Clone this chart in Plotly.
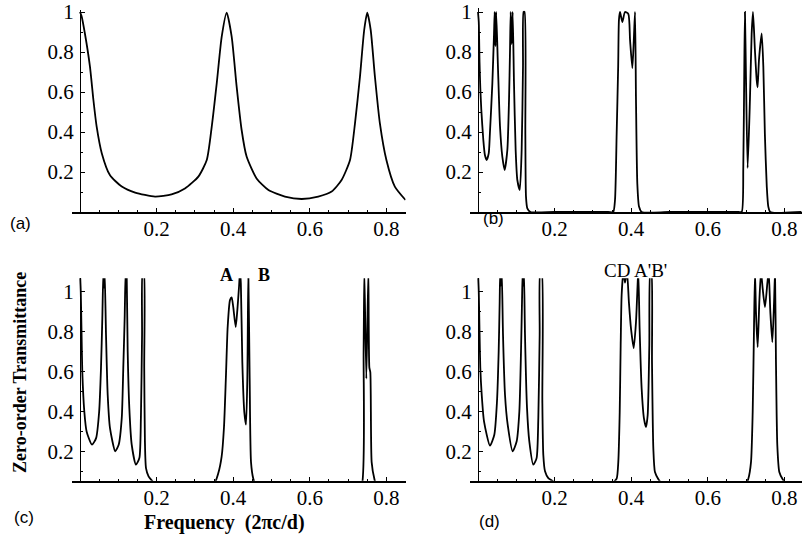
import plotly.graph_objects as go

W, H = 803, 537

# ---------------- data ----------------
freq_a = [0.0, 0.004, 0.013, 0.026, 0.035, 0.0435, 0.057, 0.078, 0.109, 0.144, 0.196, 0.239, 0.274,
          0.309, 0.331, 0.344, 0.357, 0.37, 0.383, 0.396, 0.409, 0.422, 0.435, 0.461, 0.492, 0.535,
          0.579, 0.622, 0.657, 0.683, 0.705, 0.718, 0.731, 0.742, 0.75, 0.759, 0.770, 0.783, 0.80,
          0.822, 0.85]
trans_a = [1.0, 0.98, 0.89, 0.727, 0.56, 0.427, 0.293, 0.185, 0.127, 0.097, 0.077, 0.088, 0.118,
           0.177, 0.26, 0.427, 0.643, 0.877, 0.997, 0.877, 0.627, 0.41, 0.277, 0.168, 0.11, 0.077,
           0.065, 0.077, 0.102, 0.16, 0.26, 0.443, 0.677, 0.91, 0.997, 0.91, 0.677, 0.443, 0.26,
           0.127, 0.06]

freq_b = [0.0, 0.002, 0.004, 0.006, 0.0087, 0.0139, 0.018, 0.0227, 0.028, 0.031, 0.0374, 0.0418,
          0.0435, 0.0455, 0.0475, 0.052, 0.0574, 0.0635, 0.0696, 0.0766, 0.081, 0.0836, 0.0853,
          0.0879, 0.0905, 0.094, 0.0983, 0.1027, 0.109, 0.114, 0.1175, 0.119, 0.1215, 0.1236,
          0.1253, 0.1288, 0.137, 0.2, 0.34, 0.353, 0.3577, 0.362, 0.366, 0.368, 0.3708, 0.3769,
          0.3838, 0.3925, 0.397, 0.403, 0.4068, 0.41, 0.4125, 0.416, 0.4204, 0.4273, 0.5, 0.68,
          0.6885, 0.6927, 0.6953, 0.697, 0.6995, 0.704, 0.710, 0.7145, 0.718, 0.723, 0.7276, 0.730,
          0.7336, 0.7407, 0.745, 0.749, 0.754, 0.758, 0.763, 0.845]
trans_b = [1.0, 0.95, 0.75, 0.62, 0.51, 0.36, 0.285, 0.26, 0.293, 0.39, 0.64, 0.89,
           1.0, 0.83, 1.0, 0.73, 0.43, 0.277, 0.21, 0.31, 0.56, 0.81, 1.0,
           0.84, 1.0, 0.643, 0.31, 0.16, 0.11, 0.31, 0.727, 1.0, 1.0, 0.39,
           0.077, 0.018, 0.0, 0.0, 0.0, 0.0, 0.06, 0.39, 0.73, 0.96, 1.0, 0.95,
           1.0, 0.99, 0.86, 0.72, 0.86, 1.0, 0.56, 0.14, 0.027, 0.0, 0.0, 0.0,
           0.0, 0.227, 0.727, 1.0, 0.7, 0.22, 0.56, 0.89, 1.0, 0.81, 0.66, 0.623,
           0.76, 0.893, 0.727, 0.39, 0.127, 0.027, 0.0, 0.0]

freq_c = [0.0, 0.002, 0.004, 0.006, 0.0113, 0.0174, 0.0313, 0.042, 0.05, 0.0548, 0.0583, 0.061,
          0.0627, 0.0644, 0.0679, 0.0723, 0.0783, 0.092, 0.101, 0.109, 0.113, 0.1166, 0.119,
          0.1205, 0.1218, 0.1245, 0.1288, 0.135, 0.146, 0.155, 0.159, 0.162, 0.1637, 0.1665,
          0.1677, 0.1695, 0.1723, 0.179, 0.19, 0.21, 0.3, 0.348, 0.361, 0.3698, 0.376, 0.381,
          0.3856, 0.3916, 0.396, 0.4, 0.4065, 0.4108, 0.4152, 0.4178, 0.42, 0.4238, 0.429,
          0.4334, 0.4369, 0.4395, 0.443, 0.4465, 0.4525, 0.46, 0.5, 0.72, 0.7355, 0.7405,
          0.7424, 0.7476, 0.7529, 0.7555, 0.758, 0.7615, 0.7685, 0.78, 0.85]
trans_c = [1.1, 1.0, 0.8, 0.6, 0.40, 0.30, 0.235, 0.268, 0.40, 0.618, 0.868, 1.1,
           1.02, 1.1, 0.785, 0.485, 0.318, 0.202, 0.235, 0.368, 0.618, 0.868, 1.1,
           1.02, 1.1, 0.702, 0.418, 0.235, 0.135, 0.168, 0.368, 0.785, 1.1, 1.1,
           0.618, 0.252, 0.118, 0.077, 0.05, 0.0, 0.0, 0.03, 0.092, 0.175, 0.325, 0.575,
           0.825, 0.958, 0.972, 0.925, 0.823, 0.908, 1.025, 1.1, 1.04, 0.648, 0.398,
           0.335, 0.565, 1.1, 0.565, 0.148, 0.065, 0.03, 0.0, 0.0, 0.03, 0.7,
           1.1, 0.565, 1.1, 0.62, 0.598, 0.148, 0.065, 0.0, 0.0]

freq_d = [0.0, 0.002, 0.004, 0.006, 0.0097, 0.0157, 0.0313, 0.0426, 0.0496, 0.054, 0.0566, 0.058,
          0.060, 0.062, 0.0653, 0.0705, 0.0775, 0.0906, 0.101, 0.108, 0.1123, 0.1149, 0.1166,
          0.1183, 0.12, 0.1227, 0.128, 0.134, 0.1445, 0.153, 0.1575, 0.161, 0.1627, 0.1662,
          0.168, 0.1705, 0.175, 0.1836, 0.197, 0.22, 0.33, 0.35, 0.362, 0.3663, 0.37, 0.3725,
          0.375, 0.3795, 0.3838, 0.389, 0.394, 0.3995, 0.4065, 0.4125, 0.417, 0.4186, 0.422,
          0.4273, 0.4334, 0.4386, 0.443, 0.4473, 0.45, 0.4525, 0.4543, 0.4578, 0.462, 0.471,
          0.48, 0.5, 0.69, 0.7058, 0.7128, 0.7172, 0.7206, 0.7232, 0.7258, 0.7302, 0.7345,
          0.7389, 0.7433, 0.7493, 0.7554, 0.759, 0.7633, 0.7685, 0.773, 0.7755, 0.778, 0.7815,
          0.7867, 0.7955, 0.81, 0.845]
trans_d = [1.1, 1.0, 0.8, 0.62, 0.485, 0.352, 0.23, 0.285, 0.452, 0.702, 0.952, 1.1,
           1.03, 1.1, 0.785, 0.485, 0.335, 0.202, 0.252, 0.402, 0.702, 0.952, 1.1,
           1.03, 1.1, 0.785, 0.418, 0.252, 0.135, 0.168, 0.368, 0.785, 1.1, 1.1,
           0.452, 0.185, 0.102, 0.068, 0.05, 0.0, 0.0, 0.04, 0.065, 0.148, 0.398, 0.732,
           0.982, 1.1, 1.045, 1.1, 0.948, 0.815, 0.718, 0.848, 1.048, 1.1, 0.815,
           0.515, 0.365, 0.323, 0.382, 0.732, 1.1, 1.1, 0.648, 0.215, 0.098, 0.062,
           0.04, 0.0, 0.0, 0.065, 0.148, 0.398, 0.815, 1.1, 0.898, 0.723, 0.948,
           1.1, 1.015, 0.923, 1.04, 1.1, 0.898, 0.748, 0.948, 1.1, 0.648, 0.232,
           0.098, 0.062, 0.03, 0.0]

x_tick_vals = [0.2, 0.4, 0.6, 0.8]
x_tick_text = ["0.2", "0.4", "0.6", "0.8"]
y_tick_vals = [0.2, 0.4, 0.6, 0.8, 1.0]
y_tick_text = ["0.2", "0.4", "0.6", "0.8", "1"]

# ---------------- layout geometry (pixels) ----------------
XSCALE = 383.0  # px per frequency unit
panels = [
    # name, x data, y data, y-axis px, x-axis px(bottom), top px, y range start, y range end, x end
    ("a", freq_a, trans_a, 80, 212.0, 10.0, 0.0, 1.01, 0.85),
    ("b", freq_b, trans_b, 478, 212.0, 8.0, 0.0, 1.02, 0.845),
    ("c", freq_c, trans_c, 80, 480.7, 278.3, 0.055, 1.067, 0.85),
    ("d", freq_d, trans_d, 478, 480.7, 278.3, 0.055, 1.067, 0.845),
]

def px_x(p):
    return p / W

def px_y(p):
    return 1 - p / H

fig = go.Figure()
serif = "Liberation Serif"
sans = "Liberation Sans"

for i, (name, fx, ty, yax_px, bot_px, top_px, y0, y1, xend) in enumerate(panels):
    idx = "" if i == 0 else str(i + 1)
    left_px = yax_px - 8
    x_start = -8 / XSCALE
    fig.add_trace(go.Scatter(
        x=fx, y=ty, mode="lines",
        line=dict(color="black", width=1.8, shape="spline", smoothing=0.6),
        xaxis="x" + idx, yaxis="y" + idx, hoverinfo="skip", showlegend=False))
    fig.layout["xaxis" + idx] = dict(
        domain=[px_x(left_px), min(1.0, px_x(yax_px + xend * XSCALE))],
        range=[x_start, xend], anchor="y" + idx, automargin=False,
        showline=True, linecolor="black", linewidth=2,
        showgrid=False, zeroline=False,
        ticks="inside", ticklen=4, tickwidth=1, tickcolor="black",
        tickmode="array", tickvals=x_tick_vals, ticktext=x_tick_text,
        tickfont=dict(family=serif, size=21, color="black"),
        ticklabelstandoff=-3, ticklabeloverflow="allow",
        minor=dict(ticks="inside", ticklen=2, tickcolor="black", dtick=0.05, tick0=0,
                   showgrid=False),
    )
    fig.layout["yaxis" + idx] = dict(
        domain=[px_y(bot_px), px_y(top_px)],
        range=[y0, y1], anchor="free", position=px_x(yax_px), automargin=False,
        showline=True, linecolor="black", linewidth=1.2,
        showgrid=False, zeroline=False,
        ticks="inside", ticklen=4, tickwidth=1, tickcolor="black",
        tickmode="array", tickvals=y_tick_vals, ticktext=y_tick_text,
        tickfont=dict(family=serif, size=21, color="black"),
        ticklabelstandoff=2, ticklabeloverflow="allow",
        minor=dict(ticks="inside", ticklen=2, tickcolor="black", dtick=0.1, tick0=0,
                   showgrid=False),
    )

def ann(text, xp, yp, family, size, bold=False, angle=0):
    t = "<b>" + text + "</b>" if bold else text
    return dict(text=t, x=px_x(xp), y=px_y(yp), xref="paper", yref="paper",
                showarrow=False, xanchor="center", yanchor="middle", textangle=angle,
                font=dict(family=family, size=size, color="black"))

annotations = [
    ann("(a)", 20, 223, sans, 17),
    ann("(b)", 493, 218, sans, 17),
    ann("(c)", 24, 517, sans, 17),
    ann("(d)", 489, 521, sans, 17),
    ann("A", 226.5, 275, serif, 18, bold=True),
    ann("B", 264, 275, serif, 18, bold=True),
    ann("CD", 616.5, 270, serif, 19),
    ann("A'B'", 650, 270, serif, 19),
    ann("Zero-order Transmittance", 20, 373, serif, 18, bold=True, angle=-90),
    ann("Frequency &nbsp;(2πc/d)", 224, 522, serif, 20, bold=True),
]

fig.update_layout(
    width=W, height=H, margin=dict(l=0, r=0, t=0, b=0),
    paper_bgcolor="white", plot_bgcolor="white",
    showlegend=False, annotations=annotations,
)

fig.write_html(
    "out.html",
    config={"displayModeBar": False},
    post_script="document.body.style.margin='0';document.body.style.overflow='hidden';",
)
